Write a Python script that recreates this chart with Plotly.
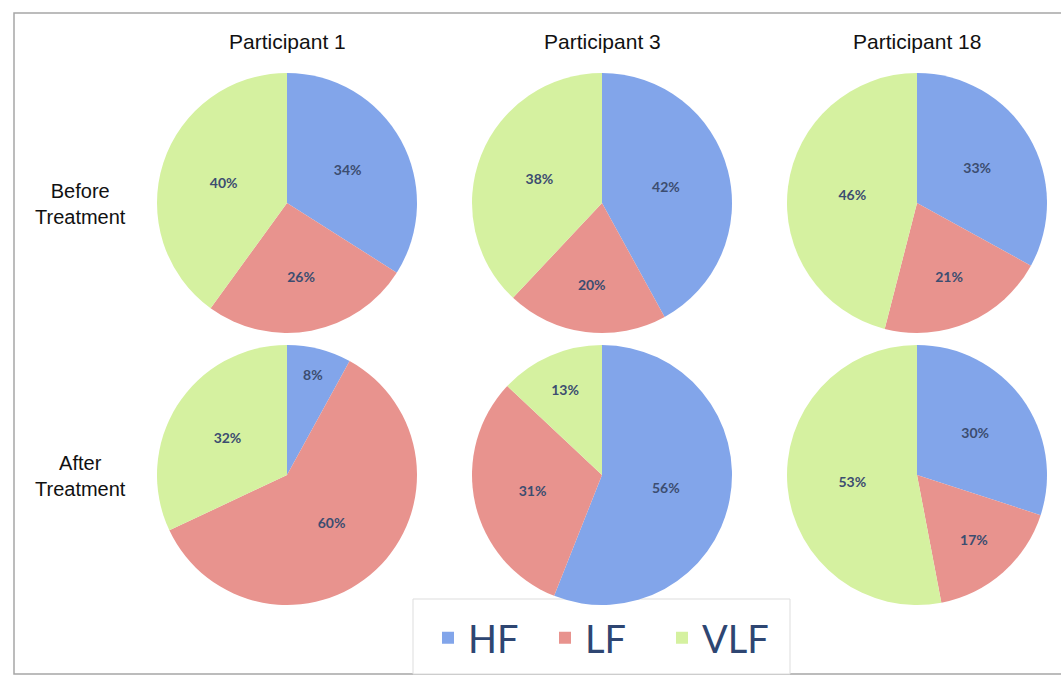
import plotly.graph_objects as go

W, H = 1061, 676

bands = ["HF", "LF", "VLF"]
participants = ["Participant 1", "Participant 3", "Participant 18"]
phases = ["Before<br>Treatment", "After<br>Treatment"]

before_hf = [34, 42, 33]
before_lf = [26, 20, 21]
before_vlf = [40, 38, 46]
after_hf = [8, 56, 30]
after_lf = [60, 31, 17]
after_vlf = [32, 13, 53]

colors = ["#82A5EA", "#E8938E", "#D5F1A0"]

col_cx = [287, 602, 917]
row_cy = [203, 475]
R = 130

def px(x):
    return x / W

def py(y):
    return 1 - y / H

fig = go.Figure()

rows = [
    (before_hf, before_lf, before_vlf),
    (after_hf, after_lf, after_vlf),
]

for r, (hf, lf, vlf) in enumerate(rows):
    for c in range(3):
        vals = [hf[c], lf[c], vlf[c]]
        fig.add_trace(go.Pie(
            labels=bands,
            values=vals,
            sort=False,
            direction="clockwise",
            rotation=0,
            marker=dict(colors=colors, line=dict(width=0)),
            texttemplate="<b>%{value}%</b>",
            textposition="inside",
            insidetextorientation="horizontal",
            textfont=dict(family="Lato", size=14, color="#3C4D70"),
            hoverinfo="label+value",
            showlegend=(r == 0 and c == 0),
            domain=dict(
                x=[px(col_cx[c] - R), px(col_cx[c] + R)],
                y=[py(row_cy[r] + R), py(row_cy[r] - R)],
            ),
        ))

annotations = []
for c, name in enumerate(participants):
    annotations.append(dict(
        x=px(col_cx[c]), y=py(42), xref="paper", yref="paper",
        text=name, showarrow=False,
        font=dict(family="Liberation Sans", size=21, color="#111111"),
        xanchor="center", yanchor="middle",
    ))
for r, name in enumerate(phases):
    annotations.append(dict(
        x=px(80), y=py(row_cy[r] + 1), xref="paper", yref="paper",
        text=name, showarrow=False,
        font=dict(family="Liberation Sans", size=20, color="#111111"),
        xanchor="center", yanchor="middle",
    ))

shapes = [
    dict(type="rect", xref="paper", yref="paper",
         x0=px(14), x1=1.02, y0=py(674), y1=py(13),
         line=dict(color="#A6A6A6", width=1.5), fillcolor="rgba(0,0,0,0)", layer="below"),
    dict(type="rect", xref="paper", yref="paper",
         x0=px(413), x1=px(790), y0=py(674), y1=py(599),
         line=dict(color="#DDDDDD", width=1), fillcolor="white", layer="below"),
]

fig.update_layout(
    width=W, height=H,
    margin=dict(l=0, r=0, t=0, b=0),
    paper_bgcolor="white",
    plot_bgcolor="white",
    annotations=annotations,
    shapes=shapes,
    legend=dict(
        orientation="h",
        x=px(428), xanchor="left",
        y=py(638), yanchor="middle",
        font=dict(family="Lato", size=38, color="#2E4672"),
        bgcolor="rgba(0,0,0,0)",
        itemwidth=30,
        entrywidth=72,
        entrywidthmode="pixels",
        traceorder="normal",
    ),
)

fig.write_html("out.html")
